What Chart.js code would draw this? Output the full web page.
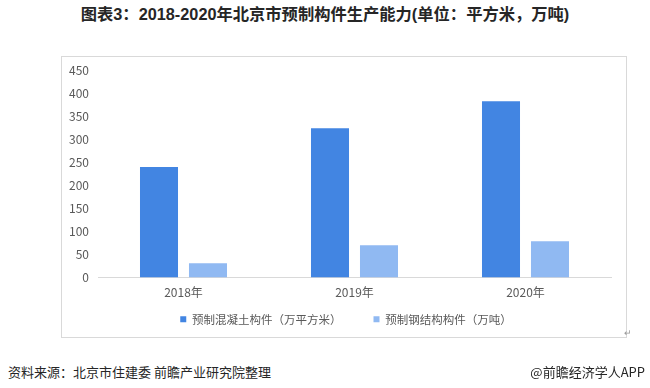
<!DOCTYPE html>
<html>
<head>
<meta charset="utf-8">
<script src="https://cdn.jsdelivr.net/npm/chart.js@4/dist/chart.umd.min.js"></script>
<style>
  html, body { margin: 0; padding: 0; background: #fff; }
  body { width: 650px; height: 388px; position: relative; overflow: hidden;
    font-family: "Noto Sans CJK SC", "Noto Sans", sans-serif; }
  .title { position: absolute; left: 0; top: 1px; width: 650px; text-align: center;
    font: bold 16.3px "Liberation Sans", "Noto Sans CJK SC", sans-serif; color: #262626; }
  .box { position: absolute; left: 61px; top: 56px; width: 564px; height: 280px;
    border: 1px solid #d9d9d9; }
  .box canvas { position: absolute; left: -1px; top: -1px; }
  .src { position: absolute; left: 8px; top: 362px; font-size: 13px; color: #262626; }
  .brand { position: absolute; right: 5px; top: 362px; font-size: 13px; color: #262626; }
  .ret { position: absolute; left: 624px; top: 326px; font-size: 9px; color: #999; }
</style>
</head>
<body>
<div class="title">图表3：2018-2020年北京市预制构件生产能力(单位：平方米，万吨)</div>
<div class="box"><canvas id="c" width="565" height="281"></canvas></div>
<div class="ret">↵</div>
<div class="src">资料来源：北京市住建委 前瞻产业研究院整理</div>
<div class="brand">@前瞻经济学人APP</div>
<script>
const years = ['2018年', '2019年', '2020年'];
const concrete = [240, 324, 382];   // 预制混凝土构件（万平方米）
const steel = [31, 70, 79];         // 预制钢结构构件（万吨）
const seriesNames = ['预制混凝土构件（万平方米）', '预制钢结构构件（万吨）'];

const fontFamily = '"Noto Sans CJK SC", "Noto Sans", sans-serif';

// legend padding is 32 for the gap between items, which also pushes it down;
// pull it back up so it sits just under the year labels
const liftLegend = {
  id: 'liftLegend',
  afterLayout(chart) {
    const lg = chart.legend;
    lg.top -= 26.5;
    lg.bottom -= 26.5;
    lg.left += 10;
    lg.right += 10;
  }
};

new Chart(document.getElementById('c'), {
  type: 'bar',
  data: {
    labels: years,
    datasets: [
      { label: seriesNames[0], data: concrete, backgroundColor: '#4285e2' },
      { label: seriesNames[1], data: steel, backgroundColor: '#90b9f2' }
    ]
  },
  options: {
    responsive: false,
    animation: false,
    devicePixelRatio: 1,
    categoryPercentage: 0.573,
    barPercentage: 0.776,
    layout: { padding: { left: 0, right: 15, top: 14, bottom: -24.5 } },
    plugins: {
      tooltip: { enabled: false },
      legend: {
        position: 'bottom',
        labels: {
          boxWidth: 6, boxHeight: 6, padding: 32,
          color: '#595959',
          font: { family: fontFamily, size: 11.5 }
        }
      }
    },
    scales: {
      x: {
        grid: { display: false, drawTicks: false },
        border: { display: true, color: '#d9d9d9', width: 1 },
        ticks: { color: '#595959', font: { family: fontFamily, size: 12 }, padding: 8 }
      },
      y: {
        min: 0, max: 450,
        grid: { display: false, drawTicks: false },
        border: { display: false },
        // small lineHeight so the top label does not push the plot down
        ticks: { stepSize: 50, color: '#595959', padding: 9,
          font: { family: fontFamily, size: 12, lineHeight: 0.8 } },
        afterFit: (s) => { s.width = 37; }
      }
    }
  },
  plugins: [liftLegend]
});
</script>
</body>
</html>
